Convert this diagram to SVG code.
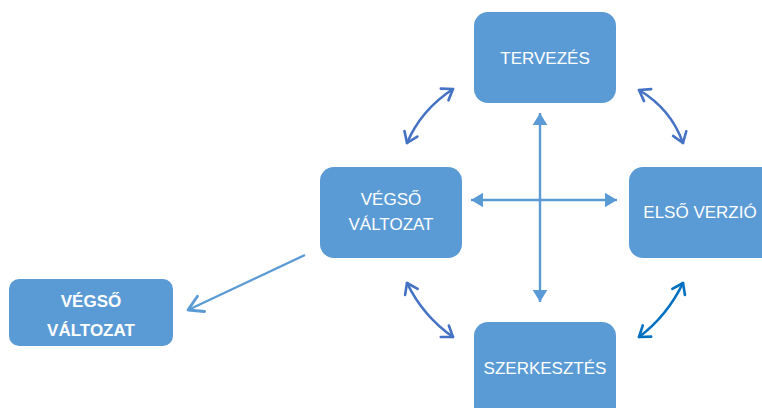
<svg xmlns="http://www.w3.org/2000/svg" width="762" height="408" viewBox="0 0 762 408">
  <style>
    .box { fill: #5B9BD5; }
    .lbl { fill: #ffffff; font-family: "Liberation Sans", Arial, sans-serif; font-size: 17px; text-anchor: middle; }
    .lbl-b { fill: #ffffff; font-family: "Liberation Sans", Arial, sans-serif; font-size: 17px; font-weight: bold; text-anchor: middle; }
    .cycle { fill: none; stroke: #4472C4; stroke-width: 2.6; stroke-linecap: round; }
    .axis { fill: none; stroke: #5B9BD5; stroke-width: 2.4; }
  </style>
  <defs>
    <marker id="openHeadBlue" markerUnits="userSpaceOnUse" markerWidth="20" markerHeight="20" viewBox="-12 -10 14 20" refX="0" refY="0" orient="auto-start-reverse">
      <path d="M-10,-7 L0,0 L-10,7" fill="none" stroke="#0070C0" stroke-width="2.6" stroke-linecap="round" stroke-linejoin="round"/>
    </marker>
    <marker id="openHeadCycle" markerUnits="userSpaceOnUse" markerWidth="20" markerHeight="20" viewBox="-12 -10 14 20" refX="0" refY="0" orient="auto-start-reverse">
      <path d="M-10,-7 L0,0 L-10,7" fill="none" stroke="#4472C4" stroke-width="2.6" stroke-linecap="round" stroke-linejoin="round"/>
    </marker>
    <marker id="openHeadLight" markerUnits="userSpaceOnUse" markerWidth="24" markerHeight="24" viewBox="-14 -10 16 20" refX="0" refY="0" orient="auto">
      <path d="M-12,-7 L0,0 L-12,7" fill="none" stroke="#5B9BD5" stroke-width="2.4" stroke-linecap="round" stroke-linejoin="round"/>
    </marker>
    <marker id="solidHead" markerUnits="userSpaceOnUse" markerWidth="16" markerHeight="16" viewBox="-10 -6 12 12" refX="0" refY="0" orient="auto-start-reverse">
      <path d="M-9,-5.5 L0,0 L-9,5.5 Z" fill="#5B9BD5"/>
    </marker>
  </defs>

  <!-- connectors -->
  <g id="connectors">
    <path class="cycle" d="M407,143 Q421,110 453,89" marker-start="url(#openHeadCycle)" marker-end="url(#openHeadCycle)"/>
    <path class="cycle" d="M639,90 Q671,109 683,143" marker-start="url(#openHeadCycle)" marker-end="url(#openHeadCycle)"/>
    <path class="cycle" style="stroke:#0070C0" d="M683,283 Q667,316 639,337" marker-start="url(#openHeadBlue)" marker-end="url(#openHeadBlue)"/>
    <path class="cycle" d="M407,283 Q423,316 453,337" marker-start="url(#openHeadCycle)" marker-end="url(#openHeadCycle)"/>
    <line class="axis" x1="540" y1="113" x2="540" y2="302" marker-start="url(#solidHead)" marker-end="url(#solidHead)"/>
    <line class="axis" x1="471" y1="200" x2="617" y2="200" marker-start="url(#solidHead)" marker-end="url(#solidHead)"/>
    <line class="axis" x1="305" y1="255" x2="188" y2="310" marker-end="url(#openHeadLight)"/>
  </g>

  <!-- nodes -->
  <g id="tervezes">
    <rect class="box" x="474" y="12" width="142" height="91" rx="14"/>
    <text class="lbl" x="545" y="64">TERVEZÉS</text>
  </g>
  <g id="elso-verzio">
    <rect class="box" x="629" y="167" width="150" height="91" rx="14"/>
    <text class="lbl" x="700" y="218">ELSŐ VERZIÓ</text>
  </g>
  <g id="szerkesztes">
    <rect class="box" x="474" y="322" width="142" height="100" rx="14"/>
    <text class="lbl" x="545" y="374">SZERKESZTÉS</text>
  </g>
  <g id="vegso-valtozat-kozep">
    <rect class="box" x="320" y="167" width="142" height="91" rx="14"/>
    <text class="lbl" x="391" y="205">VÉGSŐ</text>
    <text class="lbl" x="391" y="230">VÁLTOZAT</text>
  </g>
  <g id="vegso-valtozat">
    <rect class="box" x="9" y="279" width="164" height="67" rx="10"/>
    <text class="lbl-b" x="91" y="307">VÉGSŐ</text>
    <text class="lbl-b" x="91" y="336">VÁLTOZAT</text>
  </g>
</svg>
